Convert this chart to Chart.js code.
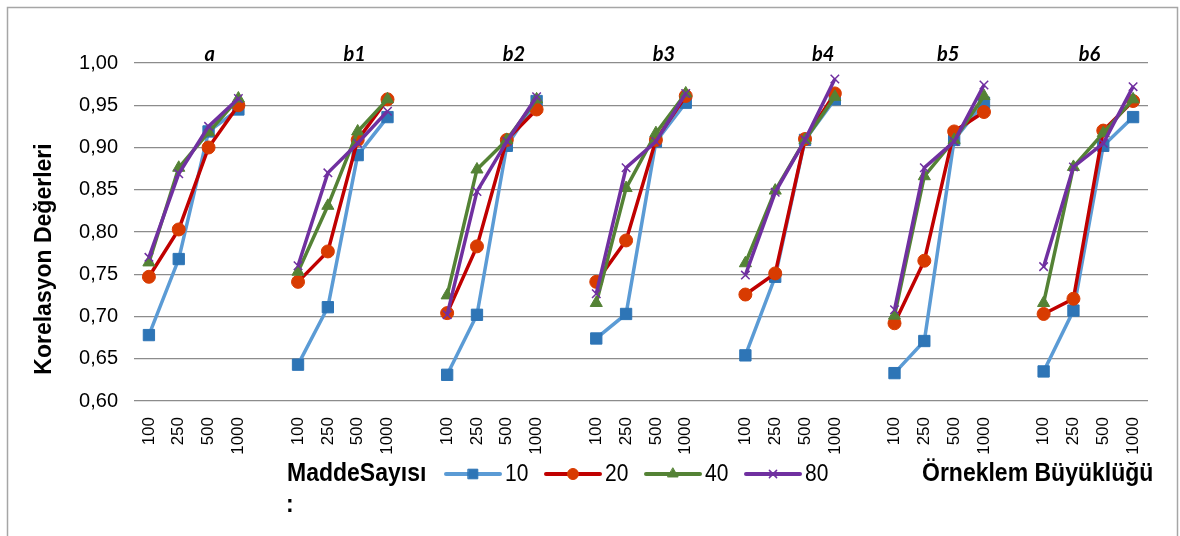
<!DOCTYPE html>
<html>
<head>
<meta charset="utf-8">
<script src="https://cdn.jsdelivr.net/npm/chart.js@4"></script>
<style>
  body { margin: 0; background: #fff; }
  #wrap { width: 1180px; height: 536px; }
</style>
</head>
<body>
<div id="wrap"><canvas id="corr-chart" width="1180" height="536"></canvas></div>
<script>
// Groups of conditions and sample sizes on the x axis
const groups = ["a", "b1", "b2", "b3", "b4", "b5", "b6"];
const sampleSizes = ["100", "250", "500", "1000"];

// Correlation values per item count, 4 sample sizes for each group
const items10 = [
  0.678, 0.768, 0.919, 0.945,
  0.643, 0.711, 0.891, 0.936,
  0.631, 0.702, 0.902, 0.955,
  0.674, 0.703, 0.907, 0.953,
  0.654, 0.747, 0.909, 0.957,
  0.633, 0.671, 0.909, 0.953,
  0.635, 0.707, 0.902, 0.936,
];
const items20 = [
  0.747, 0.803, 0.900, 0.950,
  0.741, 0.777, 0.909, 0.957,
  0.704, 0.783, 0.909, 0.945,
  0.741, 0.790, 0.909, 0.961,
  0.726, 0.751, 0.910, 0.964,
  0.692, 0.766, 0.919, 0.942,
  0.703, 0.721, 0.920, 0.955,
];
const items40 = [
  0.764, 0.876, 0.918, 0.958,
  0.753, 0.831, 0.919, 0.957,
  0.725, 0.874, 0.909, 0.957,
  0.716, 0.852, 0.917, 0.964,
  0.763, 0.849, 0.909, 0.960,
  0.701, 0.866, 0.909, 0.961,
  0.716, 0.877, 0.917, 0.957,
];
const items80 = [
  0.770, 0.869, 0.925, 0.958,
  0.760, 0.870, 0.905, 0.943,
  0.702, 0.848, 0.907, 0.960,
  0.727, 0.876, 0.907, 0.964,
  0.749, 0.847, 0.909, 0.981,
  0.708, 0.876, 0.907, 0.974,
  0.759, 0.877, 0.905, 0.972,
];
const itemCounts = ["10", "20", "40", "80"];

// hand placed offsets of the group captions (px)
const captionShift = [16, 12, 22, 23, 33, 9, 1];

const FONT = "'Liberation Sans', Arial, sans-serif";

// one empty slot between groups, null breaks the line there
function withGaps(values) {
  const out = [];
  groups.forEach((g, gi) => {
    if (gi > 0) out.push(null);
    sampleSizes.forEach((s, si) => out.push(values[gi * sampleSizes.length + si]));
  });
  return out;
}
const labels = [];
groups.forEach((g, gi) => {
  if (gi > 0) labels.push("");
  sampleSizes.forEach((s) => labels.push(s));
});

const styles = [
  { line: "#5B9BD5", mark: "#2E75B6", point: "rect", radius: 8, bw: 1 },
  { line: "#C00000", mark: "#D83B01", point: "circle", radius: 6.5, bw: 1 },
  { line: "#548235", mark: "#548235", point: "triangle", radius: 7, bw: 1 },
  { line: "#7030A0", mark: "#7030A0", point: "crossRot", radius: 6, bw: 1.5 },
];
const seriesValues = [items10, items20, items40, items80];

const datasets = seriesValues.map((vals, i) => ({
  label: itemCounts[i],
  data: withGaps(vals),
  borderColor: styles[i].line,
  borderWidth: 3.5,
  backgroundColor: styles[i].mark,
  pointBackgroundColor: styles[i].mark,
  pointBorderColor: styles[i].mark,
  pointBorderWidth: styles[i].bw,
  pointStyle: styles[i].point,
  pointRadius: styles[i].radius,
  pointHoverRadius: styles[i].radius,
  spanGaps: false,
  tension: 0,
  order: 4 - i,
}));

// text a little taller than wide, like the rest of the figure
function tallText(ctx, text, x, y, stretch) {
  ctx.save();
  ctx.translate(x, y);
  ctx.scale(1, stretch);
  ctx.fillText(text, 0, 0);
  ctx.restore();
}

// frame, captions, axis title and the legend row
const decorations = {
  id: "decorations",
  beforeDraw(chart) {
    const ctx = chart.ctx;
    ctx.save();
    ctx.strokeStyle = "#a6a6a6";
    ctx.lineWidth = 1.5;
    ctx.beginPath();
    ctx.moveTo(7.5, 540);
    ctx.lineTo(7.5, 7.5);
    ctx.lineTo(1177.5, 7.5);
    ctx.lineTo(1177.5, 540);
    ctx.stroke();
    ctx.restore();
  },
  afterDraw(chart) {
    const ctx = chart.ctx;
    const x = chart.scales.x;
    ctx.save();
    ctx.fillStyle = "#000";

    // group captions above the top grid line
    ctx.font = "italic bold 20px Lato, " + FONT;
    ctx.textAlign = "center";
    ctx.textBaseline = "middle";
    groups.forEach((g, gi) => {
      const mid = gi * (sampleSizes.length + 1) + (sampleSizes.length - 1) / 2;
      tallText(ctx, g, x.getPixelForValue(mid) + captionShift[gi], 54, 1.08);
    });

    // y axis title
    ctx.save();
    ctx.translate(45, 259);
    ctx.rotate(-Math.PI / 2);
    ctx.font = "bold 23px " + FONT;
    ctx.fillText("Korelasyon Değerleri", 0, 0);
    ctx.restore();

    // legend
    const ly = 474;
    ctx.textAlign = "left";
    ctx.font = "bold 23px " + FONT;
    tallText(ctx, "MaddeSayısı", 287, ly, 1.1);
    tallText(ctx, ":", 286, ly + 31, 1.1);
    tallText(ctx, "Örneklem Büyüklüğü", 922, ly, 1.1);

    ctx.font = "21px " + FONT;
    itemCounts.forEach((lab, i) => {
      const st = styles[i];
      const x0 = 446 + i * 100;
      const x1 = x0 + 54;
      ctx.strokeStyle = st.line;
      ctx.lineWidth = 4;
      ctx.lineCap = "round";
      ctx.beginPath();
      ctx.moveTo(x0, ly);
      ctx.lineTo(x1, ly);
      ctx.stroke();
      ctx.fillStyle = st.mark;
      ctx.strokeStyle = st.mark;
      ctx.lineWidth = st.bw;
      Chart.helpers.drawPoint(ctx, {
        pointStyle: st.point,
        rotation: 0,
        radius: st.radius * 0.85,
        borderWidth: st.bw,
      }, (x0 + x1) / 2, ly);
      ctx.fillStyle = "#000";
      tallText(ctx, lab, x1 + 5, ly + 1, 1.12);
    });
    ctx.restore();
  },
};

new Chart(document.getElementById("corr-chart"), {
  type: "line",
  data: { labels: labels, datasets: datasets },
  options: {
    responsive: false,
    animation: false,
    devicePixelRatio: 1,
    layout: { padding: { top: 63, right: 32, left: 0, bottom: 0 } },
    plugins: {
      legend: { display: false },
      tooltip: { enabled: false },
    },
    scales: {
      x: {
        type: "category",
        offset: true,
        grid: { display: false },
        border: { display: false },
        ticks: {
          autoSkip: false,
          minRotation: 90,
          maxRotation: 90,
          padding: 8,
          color: "#000",
          font: { family: FONT, size: 17 },
        },
        afterFit(scale) { scale.height = 135; },
      },
      y: {
        min: 0.6,
        max: 1.0,
        grid: { color: "#8c8c8c", lineWidth: 1.3, drawTicks: false },
        border: { display: false },
        ticks: {
          stepSize: 0.05,
          padding: 16,
          color: "#000",
          font: { family: FONT, size: 20 },
          callback: (v) => v.toFixed(2).replace(".", ","),
        },
        afterFit(scale) { scale.width = 134; },
      },
    },
  },
  plugins: [decorations],
});
</script>
</body>
</html>
